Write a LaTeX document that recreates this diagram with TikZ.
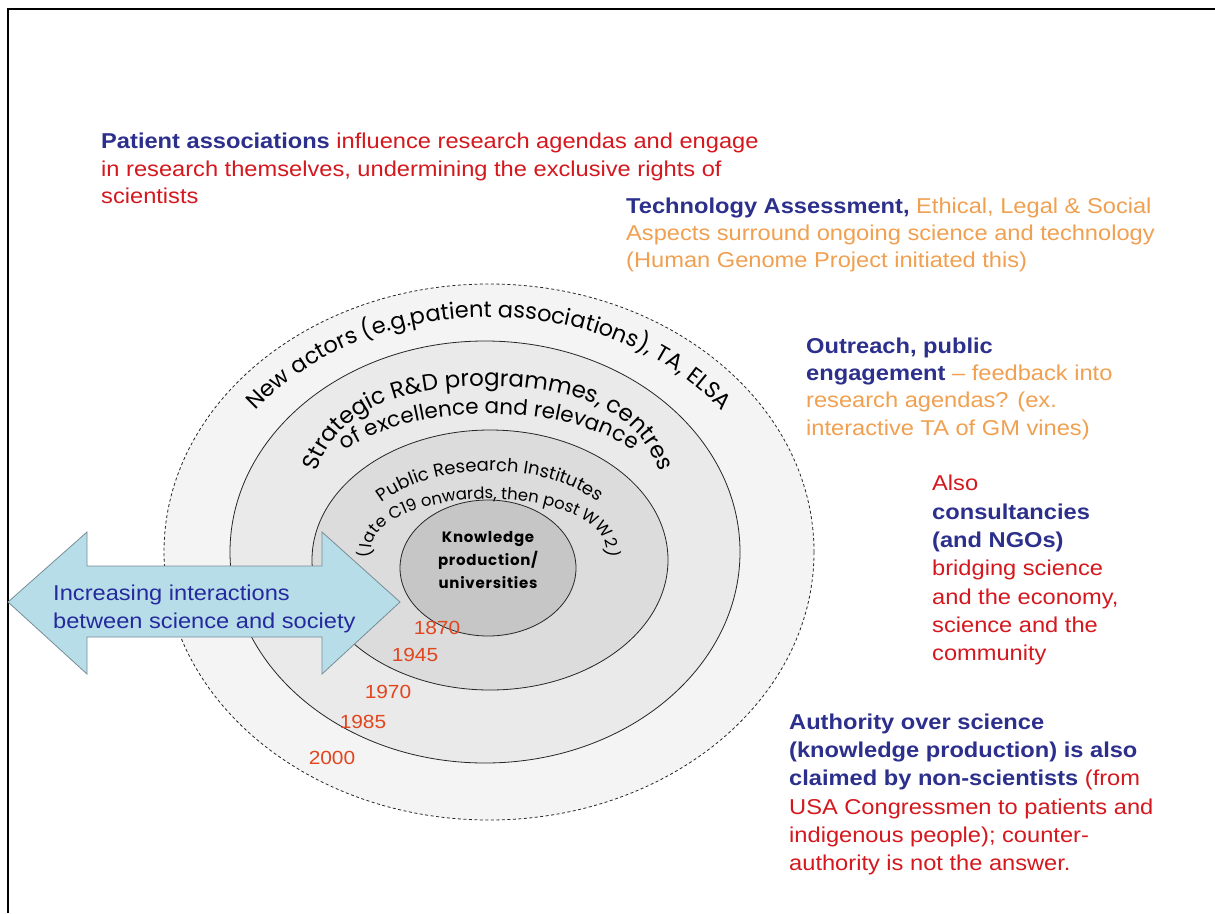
\documentclass[tikz,border=0pt]{standalone}
\usepackage{fontspec}
\setmainfont{Liberation Sans}[FakeStretch=1.1]
\newfontfamily\gothic{Poppins}
\usetikzlibrary{decorations.text}
\definecolor{navy}{RGB}{44,48,140}
\definecolor{redc}{RGB}{212,24,30}
\definecolor{orangec}{RGB}{240,160,80}
\definecolor{yearc}{RGB}{226,70,30}
\definecolor{arrowfill}{RGB}{183,222,232}
\definecolor{arrowline}{RGB}{120,140,150}
\definecolor{ringA}{RGB}{244,244,244}
\definecolor{ringB}{RGB}{234,234,234}
\definecolor{ringC}{RGB}{220,220,220}
\definecolor{ringD}{RGB}{198,198,198}
\tikzset{
  txt/.style={inner sep=0pt, anchor=base west, font=\fontsize{21.5}{26}\selectfont},
  ring/.style={draw=black!85, line width=0.8pt},
  curved/.style={decorate, decoration={text along path, text align=center}},
  year/.style={text=yearc, inner sep=0pt, font=\fontsize{19}{22}\selectfont},
  arrowsty/.style={fill=arrowfill, draw=arrowline, line width=0.8pt},
}
\newcommand{\bl}[1]{\textcolor{navy}{\bfseries #1}}
\newcommand{\rd}[1]{\textcolor{redc}{#1}}
\newcommand{\og}[1]{\textcolor{orangec}{#1}}
\begin{document}
\begin{tikzpicture}[x=1pt,y=1pt]
\useasboundingbox (0,0) rectangle (1215,-913);
\fill[white] (0,0) rectangle (1215,-913);
\draw[line width=2pt] (8,-913) -- (8,-9) -- (1215,-9);

% rings
\draw[ring, dash pattern=on 3pt off 2.5pt, fill=ringA] (489,-552) ellipse [x radius=325pt, y radius=268pt];
\draw[ring, fill=ringB] (485,-552) ellipse [x radius=255pt, y radius=211pt];
\draw[ring, fill=ringC] (490,-560) ellipse [x radius=178pt, y radius=130pt];
\draw[ring, fill=ringD] (488,-568) ellipse [x radius=88pt, y radius=68pt];

% curved labels
\path[curved, decoration={text={|\gothic\fontsize{22.5}{22.5}\selectfont|New actors (e.g.patient associations), TA, ELSA}}]
  (489,-556) ++(178:294pt and 239pt) arc[start angle=178, end angle=2, x radius=294pt, y radius=239pt];
\path[curved, decoration={text={|\gothic\fontsize{23}{23}\selectfont|Strategic R{\&}D programmes, centres}}]
  (312,-490) .. controls (325,-414) and (394,-386) .. (488,-386) .. controls (582,-386) and (651,-414) .. (664,-490);
\path[curved, decoration={text={|\gothic\fontsize{21.5}{21.5}\selectfont|of excellence and relevance}}]
  (489,-492) ++(180:170pt and 78pt) arc[start angle=180, end angle=0, x radius=170pt, y radius=78pt];
\path[curved, decoration={text={|\gothic\fontsize{18}{18}\selectfont|Public Research Institutes}}]
  (490,-550) ++(180:136pt and 79pt) arc[start angle=180, end angle=0, x radius=136pt, y radius=79pt];
\path[curved, decoration={text={|\gothic\fontsize{16.5}{16.5}\selectfont|(late C19 onwards, then post WW2)}}]
  (489,-549) ++(200:117pt and 50pt) arc[start angle=200, end angle=-20, x radius=117pt, y radius=50pt];

\node[align=center, inner sep=0pt, font=\gothic\bfseries\fontsize{15}{23}\selectfont\addfontfeature{LetterSpace=5}] (know) at (488,-560) {Knowledge\\production/\\universities};

% arrow
\filldraw[arrowsty] (8,-602) -- (87,-532) -- (87,-566) -- (322,-566) -- (322,-532) -- (400,-602)
  -- (322,-674) -- (322,-637) -- (87,-637) -- (87,-674) -- cycle;
\node[txt, text=navy!85!blue] (ar1) at (53,-600) {Increasing interactions};
\node[txt, text=navy!85!blue] (ar2) at (53,-628) {between science and society};

% years
\node[year] (y1870) at (437,-628) {1870};
\node[year] (y1945) at (415,-655) {1945};
\node[year] (y1970) at (388,-692) {1970};
\node[year] (y1985) at (363,-722) {1985};
\node[year] (y2000) at (332,-758) {2000};

% patient associations
\node[txt] (pa1) at (101,-148) {\bl{Patient associations} \rd{influence research agendas and engage}};
\node[txt] (pa2) at (101,-176) {\rd{in research themselves, undermining the exclusive rights of}};
\node[txt] (pa3) at (101,-203) {\rd{scientists}};

% technology assessment
\node[txt] (ta1) at (626,-213) {\bl{Technology Assessment,} \og{Ethical, Legal \& Social}};
\node[txt] (ta2) at (626,-240) {\og{Aspects surround ongoing science and technology}};
\node[txt] (ta3) at (626,-267) {\og{(Human Genome Project initiated this)}};

% outreach
\node[txt] (ou1) at (806,-353) {\bl{Outreach, public}};
\node[txt] (ou2) at (806,-380) {\bl{engagement} \og{-- feedback into}};
\node[txt] (ou3) at (806,-407) {\og{research agendas? (ex.}};
\node[txt] (ou4) at (806,-435) {\og{interactive TA of GM vines)}};

% also
\node[txt] (al1) at (932,-490) {\rd{Also}};
\node[txt] (al2) at (932,-519) {\bl{consultancies}};
\node[txt] (al3) at (932,-547) {\bl{(and NGOs)}};
\node[txt] (al4) at (932,-575) {\rd{bridging science}};
\node[txt] (al5) at (932,-604) {\rd{and the economy,}};
\node[txt] (al6) at (932,-632) {\rd{science and the}};
\node[txt] (al7) at (932,-660) {\rd{community}};

% authority
\node[txt] (au1) at (789,-729) {\bl{Authority over science}};
\node[txt] (au2) at (789,-757) {\bl{(knowledge production) is also}};
\node[txt] (au3) at (789,-785) {\bl{claimed by non-scientists} \rd{(from}};
\node[txt] (au4) at (789,-814) {\rd{USA Congressmen to patients and}};
\node[txt] (au5) at (789,-842) {\rd{indigenous people); counter-}};
\node[txt] (au6) at (789,-870) {\rd{authority is not the answer.}};
\end{tikzpicture}
\end{document}
